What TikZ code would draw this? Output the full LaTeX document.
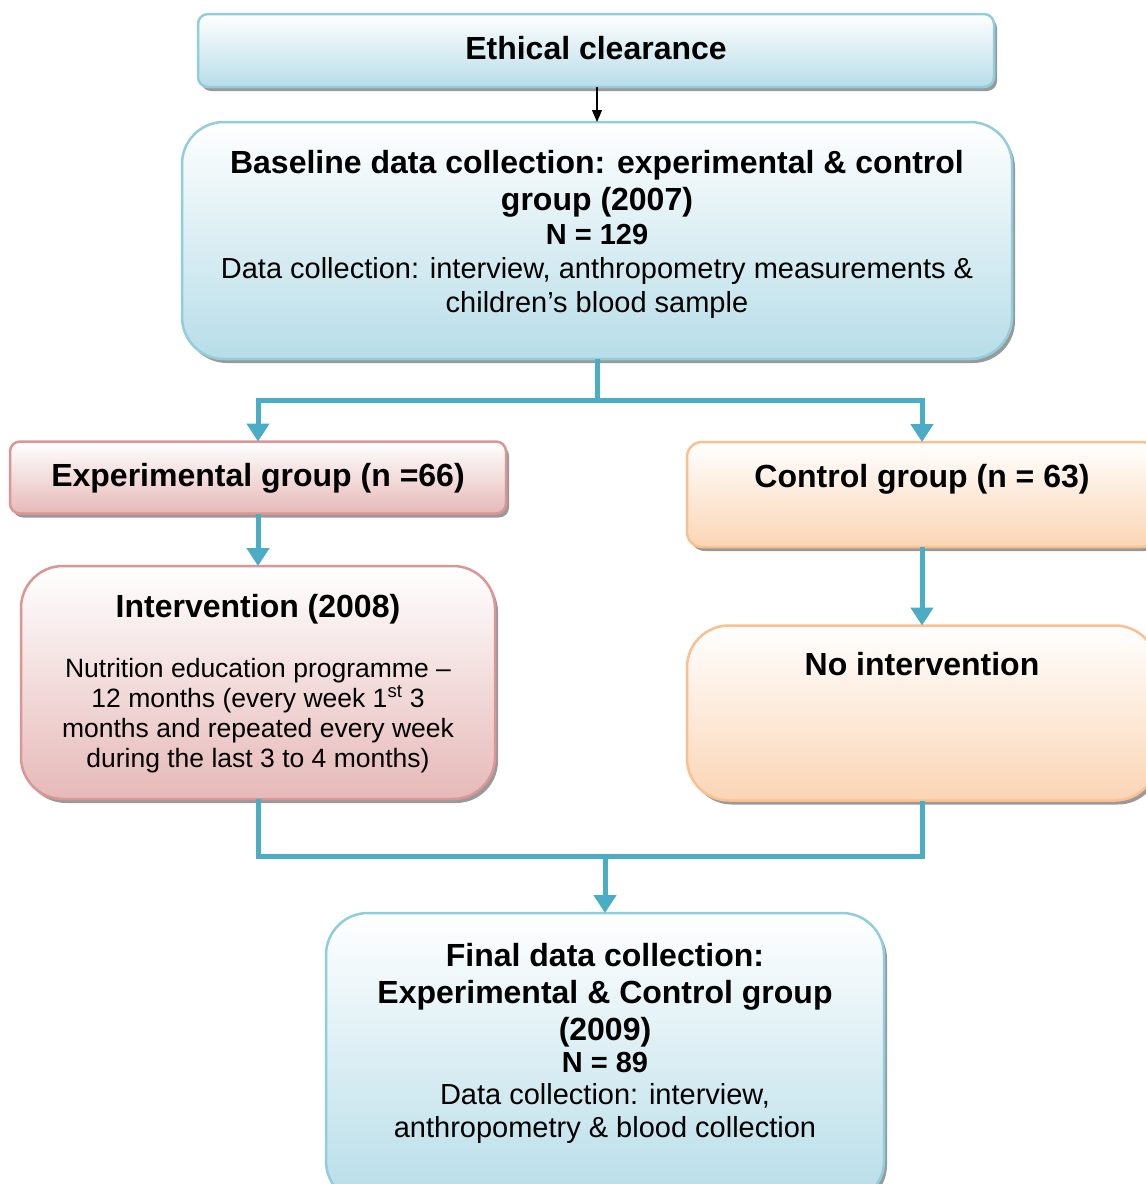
\documentclass[tikz,border=0pt]{standalone}
\usepackage{fontspec}
\setmainfont{Liberation Sans}
\usetikzlibrary{arrows.meta,shadows}

\definecolor{blueedge}{HTML}{92CDDC}
\definecolor{bluefill}{HTML}{B7DDE8}
\definecolor{pinkedge}{HTML}{D99694}
\definecolor{pinkfill}{HTML}{E6B9B8}
\definecolor{orangeedge}{HTML}{FAC090}
\definecolor{orangefill}{HTML}{FBD5B5}
\definecolor{flowline}{HTML}{4BACC6}

\tikzset{
  box/.style={draw, line width=2.5pt, inner sep=0pt, outer sep=0pt,
    drop shadow={shadow xshift=3pt, shadow yshift=-4pt, fill=black!40, opacity=1}},
  bluebox/.style={box, draw=blueedge, top color=white, bottom color=bluefill},
  pinkbox/.style={box, draw=pinkedge, top color=white, bottom color=pinkfill},
  orangebox/.style={box, draw=orangeedge, top color=white, bottom color=orangefill},
  boldtxt/.style={font=\fontsize{32}{37}\selectfont\bfseries, anchor=base, inner sep=0pt},
  boldsmall/.style={font=\fontsize{29}{34}\selectfont\bfseries, anchor=base, inner sep=0pt},
  plaintxt/.style={font=\fontsize{29}{34}\selectfont, anchor=base, inner sep=0pt},
  smalltxt/.style={font=\fontsize{26.5}{30.5}\selectfont, anchor=base, inner sep=0pt},
  flow/.style={draw=flowline, line width=5pt, -{Triangle[width=22pt,length=18pt]}},
  link/.style={draw=flowline, line width=5pt},
  thinarrow/.style={draw=black, line width=1.2pt, -{Triangle[width=10pt,length=12pt]}}
}

\begin{document}
\begin{tikzpicture}[x=1pt, y=-1pt]
  \useasboundingbox (0,0) rectangle (1146,1184);
  \clip (0,0) rectangle (1146,1184);
  \fill[white] (0,0) rectangle (1146,1184);

  % boxes
  \node[bluebox, rounded corners=10pt, minimum width=796pt, minimum height=73pt] (eth) at (596,50.5) {};
  \node[bluebox, rounded corners=42pt, minimum width=830pt, minimum height=237pt] (base) at (597,240.5) {};
  \node[pinkbox, rounded corners=10pt, minimum width=496pt, minimum height=72pt] (exp) at (258,477.5) {};
  \node[orangebox, rounded corners=15pt, minimum width=470pt, minimum height=105pt] (ctl) at (922,494.5) {};
  \node[pinkbox, rounded corners=42pt, minimum width=474pt, minimum height=233pt] (int) at (258,682.5) {};
  \node[orangebox, rounded corners=42pt, minimum width=470pt, minimum height=175pt] (noint) at (922,713) {};
  \node[bluebox, rounded corners=42pt, minimum width=558pt, minimum height=290pt] (final) at (605,1058) {};

  % texts
  \node[boldtxt] (ethT) at (596,59) {Ethical clearance};

  \node[boldtxt] (baseA) at (597,173) {Baseline data collection: experimental \& control};
  \node[boldtxt] (baseB) at (597,210) {group (2007)};
  \node[boldsmall] (baseC) at (597,244) {N = 129};
  \node[plaintxt] (baseD) at (597,278) {Data collection: interview, anthropometry measurements \&};
  \node[plaintxt] (baseE) at (597,312) {children’s blood sample};

  \node[boldtxt] (expT) at (258,486) {Experimental group (n =66)};
  \node[boldtxt] (ctlT) at (922,487) {Control group (n = 63)};

  \node[boldtxt] (intT) at (258,617) {Intervention (2008)};
  \node[smalltxt] (intA) at (258,677) {Nutrition education programme –};
  \node[smalltxt] (intB) at (258,707) {12 months (every week 1\textsuperscript{st} 3};
  \node[smalltxt] (intC) at (258,737) {months and repeated every week};
  \node[smalltxt] (intD) at (258,767) {during the last 3 to 4 months)};

  \node[boldtxt] (nointT) at (922,675) {No intervention};

  \node[boldtxt] (finA) at (605,966) {Final data collection:};
  \node[boldtxt] (finB) at (605,1003) {Experimental \& Control group};
  \node[boldtxt] (finC) at (605,1040) {(2009)};
  \node[boldsmall] (finD) at (605,1072) {N = 89};
  \node[plaintxt] (finE) at (605,1104) {Data collection: interview,};
  \node[plaintxt] (finF) at (605,1137) {anthropometry \& blood collection};

  % connectors
  \draw[thinarrow] (eth.south -| base.north) -- (base.north);
  \coordinate (split) at (597,400);
  \draw[link] (base.south) -- (split);
  \draw[flow] (split) -| (exp.north);
  \draw[flow] (split) -| (ctl.north);
  \draw[flow] (exp.south) -- (int.north);
  \draw[flow] (ctl.south) -- (noint.north);
  \coordinate (merge) at (605,856);
  \draw[link] (int.south) |- (merge) -| (noint.south);
  \draw[flow] (merge) -- (final.north);
\end{tikzpicture}
\end{document}
